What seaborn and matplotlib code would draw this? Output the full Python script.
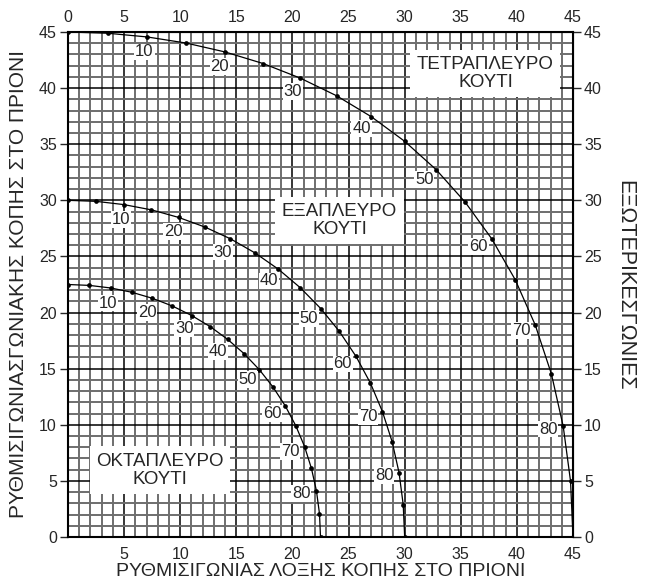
import numpy as np
import seaborn as sns
import matplotlib.pyplot as plt

# exterior (wall) angle of the box, degrees
exterior_angles = [0, 5, 10, 15, 20, 25, 30, 35, 40, 45, 50, 55, 60, 65, 70, 75, 80, 85, 90]

# square box (4 sides): saw bevel (x) / saw miter (y)
square_bevel = [0.0, 3.53, 7.05, 10.55, 14.0, 17.39, 20.7, 23.93, 27.03, 30.0,
                32.8, 35.39, 37.76, 39.86, 41.64, 43.08, 44.13, 44.78, 45.0]
square_miter = [45.0, 44.89, 44.56, 44.01, 43.22, 42.19, 40.89, 39.32, 37.45, 35.26,
                32.74, 29.84, 26.57, 22.91, 18.88, 14.51, 9.85, 4.98, 0.0]

# hexagonal box (6 sides)
hex_bevel = [0.0, 2.5, 4.98, 7.44, 9.85, 12.2, 14.48, 16.67, 18.75, 20.7,
             22.52, 24.18, 25.66, 26.95, 28.02, 28.88, 29.5, 29.87, 30.0]
hex_miter = [30.0, 29.91, 29.62, 29.15, 28.48, 27.62, 26.57, 25.31, 23.86, 22.21,
             20.36, 18.32, 16.1, 13.71, 11.17, 8.5, 5.73, 2.88, 0.0]

# octagonal box (8 sides)
oct_bevel = [0.0, 1.91, 3.81, 5.68, 7.52, 9.31, 11.03, 12.68, 14.24, 15.7,
             17.05, 18.27, 19.35, 20.29, 21.08, 21.69, 22.14, 22.41, 22.5]
oct_miter = [22.5, 22.42, 22.19, 21.81, 21.27, 20.58, 19.73, 18.74, 17.6, 16.33,
             14.91, 13.36, 11.7, 9.93, 8.06, 6.12, 4.11, 2.07, 0.0]

label_angles = [10, 20, 30, 40, 50, 60, 70, 80]
axis_ticks = [0, 5, 10, 15, 20, 25, 30, 35, 40, 45]

box_names = ["ΤΕΤΡΑΠΛΕΥΡΟ\nΚΟΥΤΙ", "ΕΞΑΠΛΕΥΡΟ\nΚΟΥΤΙ", "ΟΚΤΑΠΛΕΥΡΟ\nΚΟΥΤΙ"]
box_name_pos = [(37.2, 41.3), (24.2, 28.2), (8.2, 5.95)]

sns.set_style('white')
plt.rcParams['font.family'] = ['Liberation Sans', 'DejaVu Sans']

fig = plt.figure(figsize=(6.49, 5.87), dpi=100)
ax = fig.add_axes([68 / 649, 50 / 587, 505 / 649, 505 / 587])

# fine grid every unit, darker every 5
ax.set_xlim(0, 45)
ax.set_ylim(0, 45)
ax.set_xticks(np.arange(0, 46), minor=True)
ax.set_yticks(np.arange(0, 46), minor=True)
ax.set_xticks(axis_ticks, labels=[''] + [str(v) for v in axis_ticks[1:]])
ax.set_yticks(axis_ticks, labels=[str(v) for v in axis_ticks])
ax.grid(which='minor', color='#6e6e6e', lw=1.4, zorder=0)
ax.grid(which='major', color='black', lw=1.1, zorder=0)
ax.set_axisbelow(True)

ax.tick_params(axis='x', which='both', bottom=False, length=0, pad=7, labelsize=11.5)
ax.tick_params(axis='y', which='major', left=True, length=6, width=1,
               direction='out', pad=2, labelsize=11.5)
ax.tick_params(axis='y', which='minor', left=False)

top = ax.secondary_xaxis('top')
top.set_xticks(axis_ticks, labels=[str(v) for v in axis_ticks])
top.tick_params(length=0, pad=5, labelsize=11.5)

right = ax.secondary_yaxis('right')
right.set_yticks(axis_ticks, labels=[str(v) for v in axis_ticks])
right.tick_params(right=True, length=6, width=1, direction='out', pad=2, labelsize=11.5)

for sp in ax.spines.values():
    sp.set_color('black')
    sp.set_linewidth(1.5)

curves = [(square_bevel, square_miter), (hex_bevel, hex_miter), (oct_bevel, oct_miter)]
for bx, my in curves:
    sns.lineplot(x=bx, y=my, sort=False, estimator=None, color='black', lw=0.9,
                 marker='o', markersize=3.4, markeredgewidth=0, ax=ax, zorder=3)
    for ang in label_angles:
        i = exterior_angles.index(ang)
        t = np.radians(ang)
        r = 11
        ax.annotate(str(ang), (bx[i], my[i]), xytext=(-r * np.sin(t), -r * np.cos(t)),
                    textcoords='offset points', ha='center', va='center', fontsize=12,
                    bbox=dict(boxstyle='square,pad=0.05', fc='white', ec='none'), zorder=4)

for name, (px, py) in zip(box_names, box_name_pos):
    ax.text(px, py, name, ha='center', va='center', fontsize=13.5, linespacing=1.05,
            bbox=dict(boxstyle='square,pad=0.35', fc='white', ec='none'), zorder=4)

ax.set_xlabel("ΡΥΘΜΙΣΙΓΩΝΙΑΣ ΛΟΞΗΣ ΚΟΠΗΣ ΣΤΟ ΠΡΙΟΝΙ", fontsize=14, labelpad=1)
ax.set_ylabel("ΡΥΘΜΙΣΙΓΩΝΙΑΣΓΩΝΙΑΚΗΣ ΚΟΠΗΣ ΣΤΟ ΠΡΙΟΝΙ", fontsize=15, labelpad=8)
fig.text(625 / 649, 1 - 285 / 587, "ΕΞΩΤΕΡΙΚΕΣΓΩΝΙΕΣ", rotation=270, ha='center',
         va='center', fontsize=15.5)

fig.savefig('out.png', dpi=100)
